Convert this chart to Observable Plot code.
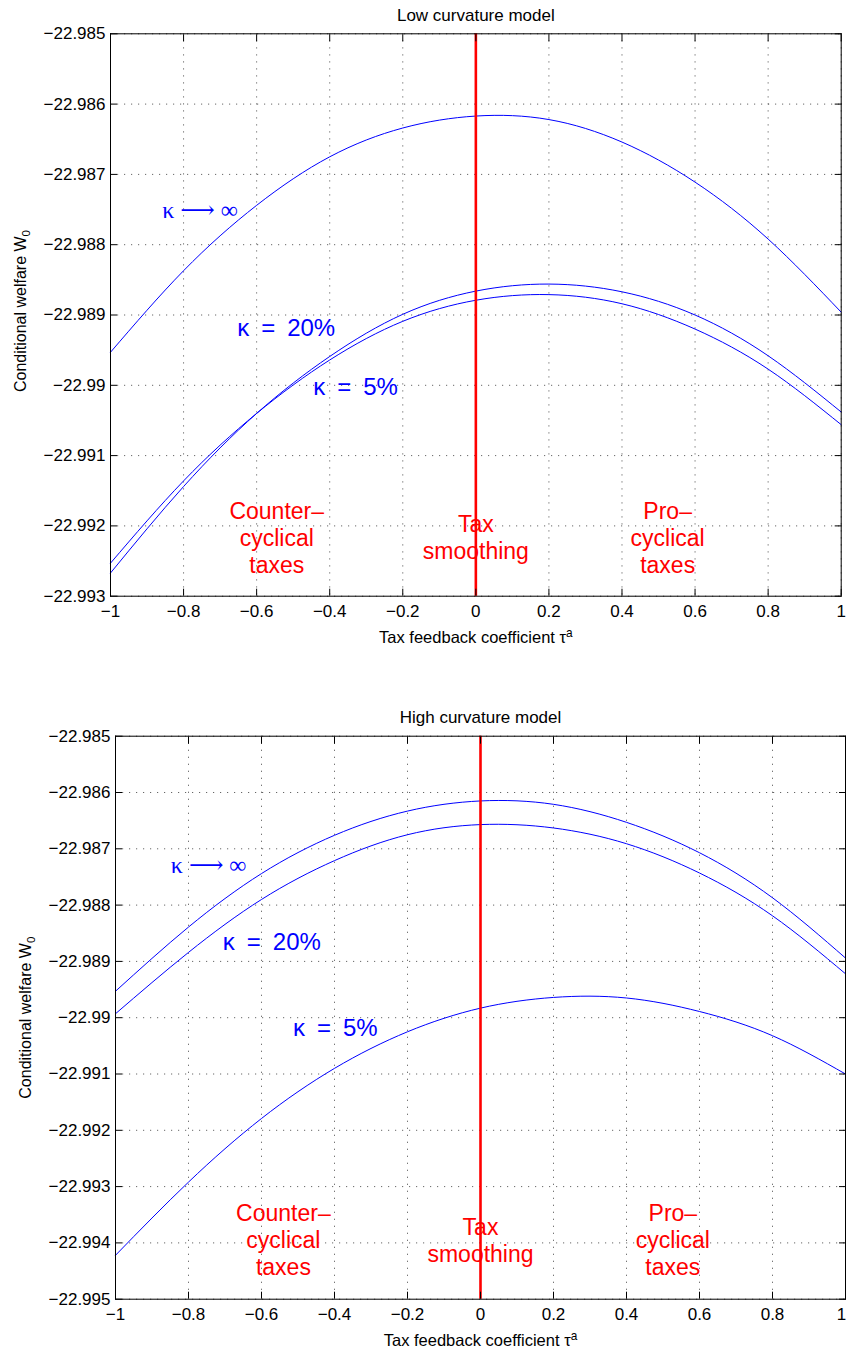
<!DOCTYPE html>
<html>
<head>
<meta charset="utf-8">
<script src="https://cdn.jsdelivr.net/npm/d3@7"></script>
<script src="https://cdn.jsdelivr.net/npm/@observablehq/plot@0.6"></script>
<style>
  body { margin: 0; background: #fff; }
  svg { display: block; }
</style>
</head>
<body>
<div id="chart"></div>
<script>
// ---- data ----
const tau = [-1, -0.8, -0.6, -0.4, -0.2, 0, 0.2, 0.4, 0.6, 0.8, 1];

// Low curvature model
const lowInf = [-22.98953, -22.98837, -22.98744, -22.98675, -22.98634, -22.98617, -22.98622, -22.98654, -22.98711, -22.98792, -22.98896];
const low20  = [-22.99267, -22.99144, -22.99040, -22.98959, -22.98899, -22.98866, -22.98856, -22.98867, -22.98900, -22.98958, -22.99038];
const low5   = [-22.99253, -22.99136, -22.99040, -22.98964, -22.98909, -22.98879, -22.98871, -22.98884, -22.98920, -22.98977, -22.99056];

// High curvature model
const highInf = [-22.98953, -22.98839, -22.98744, -22.98676, -22.98633, -22.98615, -22.98621, -22.98653, -22.98707, -22.98787, -22.98894];
const high20  = [-22.98993, -22.98884, -22.98790, -22.98721, -22.98675, -22.98657, -22.98663, -22.98691, -22.98743, -22.98819, -22.98922];
const high5   = [-22.99422, -22.99292, -22.99179, -22.99090, -22.99025, -22.98983, -22.98964, -22.98965, -22.98989, -22.99032, -22.99100];

const smoothingTau = [0];

// ticks
const xTicks = [-1, -0.8, -0.6, -0.4, -0.2, 0, 0.2, 0.4, 0.6, 0.8, 1];
const xTickLabels = ["\u22121", "\u22120.8", "\u22120.6", "\u22120.4", "\u22120.2", "0", "0.2", "0.4", "0.6", "0.8", "1"];
const yTicksLow = [-22.993, -22.992, -22.991, -22.990, -22.989, -22.988, -22.987, -22.986, -22.985];
const yTickLabelsLow = ["\u221222.993", "\u221222.992", "\u221222.991", "\u221222.99", "\u221222.989", "\u221222.988", "\u221222.987", "\u221222.986", "\u221222.985"];
const yTicksHigh = [-22.995, -22.994, -22.993, -22.992, -22.991, -22.990, -22.989, -22.988, -22.987, -22.986, -22.985];
const yTickLabelsHigh = ["\u221222.995", "\u221222.994", "\u221222.993", "\u221222.992", "\u221222.991", "\u221222.99", "\u221222.989", "\u221222.988", "\u221222.987", "\u221222.986", "\u221222.985"];

// texts
const titles = ["Low curvature model", "High curvature model"];
const xLabelMain = "Tax feedback coefficient \u03C4", xLabelSup = "a";
const yLabelMain = "Conditional welfare W", yLabelSub = "0";
const kappaLabels = ["\u03BA \u27F6 \u221E", "\u03BA\u2002=\u200220%", "\u03BA\u2002=\u20025%"];
const regionLabels = ["Counter\u2013\ncyclical\ntaxes", "Tax\nsmoothing", "Pro\u2013\ncyclical\ntaxes"];

const BLUE = "#0000ff", RED = "#ff0000";
const FONT = "'Liberation Sans', Arial, Helvetica, sans-serif";
const SERIF = "'Liberation Serif', 'DejaVu Serif', 'DejaVu Sans', serif";

function panel(cfg) {
  const fmt = (ticks, labels) => d => labels[ticks.indexOf(d)];
  const grid = {stroke: "#000", strokeOpacity: 0.6, strokeDasharray: "1.2,5.8", strokeWidth: 1};
  const svg = Plot.plot({
    width: 846,
    height: cfg.height,
    marginTop: cfg.mt, marginBottom: cfg.mb, marginLeft: cfg.ml, marginRight: cfg.mr,
    style: {fontFamily: FONT, fontSize: "17px", color: "#000", background: "#fff"},
    x: {domain: [-1, 1]},
    y: {domain: cfg.yDomain},
    marks: [
      Plot.gridX(xTicks, grid),
      Plot.gridY(cfg.yTicks, grid),
      // curves
      Plot.line(tau, {x: tau, y: cfg.series[0], curve: "natural", stroke: BLUE, strokeWidth: 1}),
      Plot.line(tau, {x: tau, y: cfg.series[1], curve: "natural", stroke: BLUE, strokeWidth: 1}),
      Plot.line(tau, {x: tau, y: cfg.series[2], curve: "natural", stroke: BLUE, strokeWidth: 1}),
      Plot.ruleX(smoothingTau, {stroke: RED, strokeWidth: 2.6}),
      // frame + inward ticks on all sides
      Plot.frame({stroke: "#000", strokeWidth: 1}),
      Plot.axisX(xTicks, {anchor: "bottom", tickSize: -7, fill: "none", label: null}),
      Plot.axisX(xTicks, {anchor: "top", tickSize: -7, fill: "none", label: null}),
      Plot.axisY(cfg.yTicks, {anchor: "left", tickSize: -7, fill: "none", label: null}),
      Plot.axisY(cfg.yTicks, {anchor: "right", tickSize: -7, fill: "none", label: null}),
      // tick labels
      Plot.axisX(xTicks, {anchor: "bottom", tickSize: 0, tickPadding: 9, tickFormat: fmt(xTicks, xTickLabels), label: null, fontSize: 17}),
      Plot.axisY(cfg.yTicks, {anchor: "left", tickSize: 0, tickPadding: 5, tickFormat: fmt(cfg.yTicks, cfg.yTickLabels), label: null, fontSize: 17}),
      // title and axis labels
      Plot.text([cfg.title], {text: d => d, frameAnchor: "top", textAnchor: "middle", lineAnchor: "middle", dy: cfg.titleDy, fontSize: 17, fill: "#000"}),
      Plot.text([xLabelMain + xLabelSup], {text: d => d, frameAnchor: "bottom", textAnchor: "middle", lineAnchor: "middle", dy: 41.3, fontSize: 16.5, fill: "#000"}),
      Plot.text([yLabelMain + yLabelSub], {text: d => d, frameAnchor: "left", textAnchor: "middle", lineAnchor: "middle", dx: -90, dy: cfg.ylabelDy, rotate: -90, fontSize: 16, fill: "#000"}),
      // kappa labels
      Plot.text([kappaLabels[0]], {text: d => d, x: cfg.kappaPos[0][0], y: cfg.kappaPos[0][1], textAnchor: "start", fontSize: 24, fill: BLUE, fontFamily: SERIF}),
      Plot.text([kappaLabels[1]], {text: d => d, x: cfg.kappaPos[1][0], y: cfg.kappaPos[1][1], textAnchor: "start", fontSize: 24, fill: BLUE}),
      Plot.text([kappaLabels[2]], {text: d => d, x: cfg.kappaPos[2][0], y: cfg.kappaPos[2][1], textAnchor: "start", fontSize: 24, fill: BLUE}),
      // region labels
      Plot.text(regionLabels, {text: d => d, x: cfg.regionX, y: regionLabels.map(() => cfg.regionY), fontSize: 23, lineHeight: 1.17, fill: RED})
    ]
  });
  // sub/superscripts as real text
  svg.querySelectorAll("text").forEach(t => {
    if (t.textContent === yLabelMain + yLabelSub) {
      t.textContent = yLabelMain;
      const s = document.createElementNS("http://www.w3.org/2000/svg", "tspan");
      s.setAttribute("dy", "0.35em"); s.setAttribute("font-size", "0.72em"); s.textContent = yLabelSub;
      t.appendChild(s);
    } else if (t.textContent === xLabelMain + xLabelSup) {
      t.textContent = xLabelMain;
      const s = document.createElementNS("http://www.w3.org/2000/svg", "tspan");
      s.setAttribute("dy", "-0.5em"); s.setAttribute("font-size", "0.72em"); s.textContent = xLabelSup;
      t.appendChild(s);
    }
  });
  // keep the last x tick label inside the picture
  if (cfg.lastLabelDx) {
    const labels = svg.querySelectorAll('g[aria-label="x-axis tick label"] text');
    if (labels.length) labels[labels.length - 1].setAttribute("dx", cfg.lastLabelDx);
  }
  return svg;
}

const root = document.getElementById("chart");
root.appendChild(panel({
  height: 660, mt: 33.3, mb: 64.3, ml: 110, mr: 5.3,
  yDomain: [-22.993, -22.985], yTicks: yTicksLow, yTickLabels: yTickLabelsLow,
  series: [lowInf, low20, low5], title: titles[0], titleDy: -18.3, ylabelDy: -4,
  kappaPos: [[-0.8586, -22.98751], [-0.6534, -22.98919], [-0.4453, -22.99003]],
  regionX: [-0.545, 0, 0.525], regionY: -22.99216
}));
root.appendChild(panel({
  height: 691, mt: 75.7, mb: 52.3, ml: 115, mr: 1,
  yDomain: [-22.995, -22.985], yTicks: yTicksHigh, yTickLabels: yTickLabelsHigh,
  series: [highInf, high20, high5], title: titles[1], titleDy: -19, ylabelDy: 0,
  kappaPos: [[-0.8485, -22.98730], [-0.706, -22.98866], [-0.514, -22.99019]],
  regionX: [-0.54, 0, 0.527], regionY: -22.99394, lastLabelDx: -4
}));
</script>
</body>
</html>
